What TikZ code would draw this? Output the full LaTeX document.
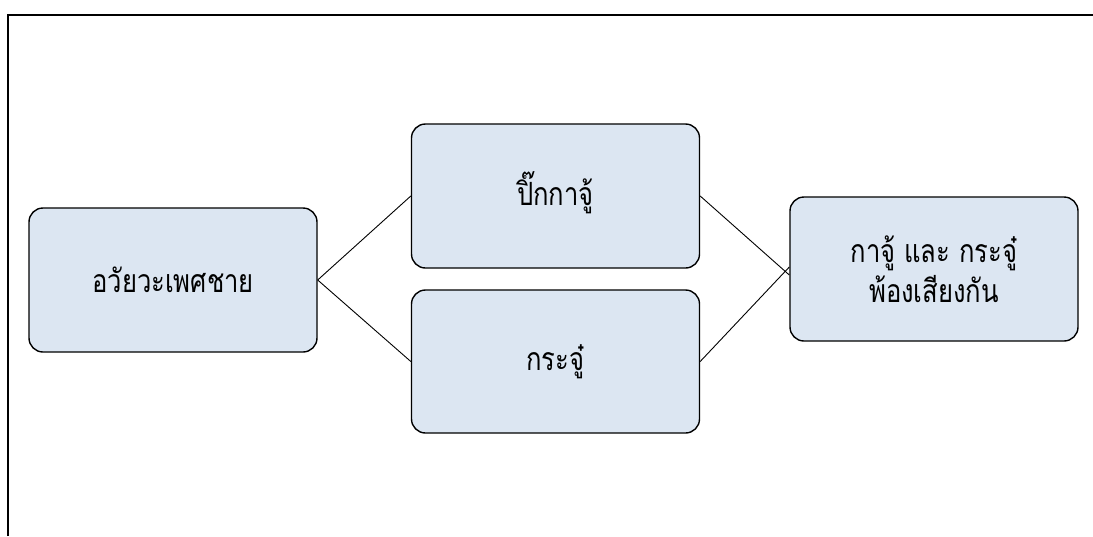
\documentclass[tikz,border=0pt]{standalone}
\usepackage{fontspec}
\newfontfamily\thaifont[Script=Thai,FakeStretch=0.8]{Loma}
\definecolor{boxfill}{HTML}{DCE6F2}
\begin{document}
\begin{tikzpicture}[x=1pt,y=-1pt,
  bx/.style={draw=black,line width=1.4pt,fill=boxfill,rounded corners=14pt,
    minimum width=288pt,minimum height=144pt,inner sep=0pt,
    font=\thaifont\fontsize{32}{40}\selectfont,align=center},
  conn/.style={draw=black,line width=0.9pt}]
\useasboundingbox (0,0) rectangle (1093,536);
\draw[line width=2pt] (8,536) -- (8,15) -- (1093,15);
\node[bx] (a) at (173,280) {อวัยวะเพศชาย};
\node[bx] (b) at (555.5,196) {\raisebox{14pt}{ปิ๊กกาจู้}};
\node[bx,minimum height=143pt] (c) at (555.5,361.5) {กระจู๋};
\node[bx] (d) at (934,269) {กาจู้ และ กระจู๋\\พ้องเสียงกัน};
\draw[conn] (a.east) -- (b.west);
\draw[conn] (a.east) -- (c.west);
\draw[conn] (b.east) -- ([yshift=-6pt]d.west);
\draw[conn] (c.east) -- ([yshift=2pt]d.west);
\end{tikzpicture}
\end{document}
